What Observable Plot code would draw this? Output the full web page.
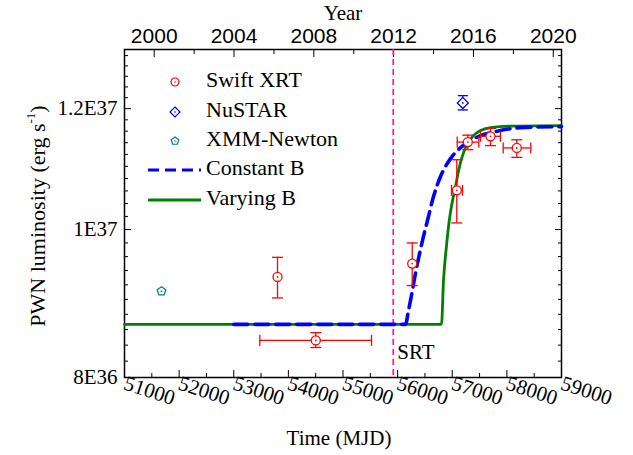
<!DOCTYPE html>
<html>
<head>
<meta charset="utf-8">
<script src="https://cdn.jsdelivr.net/npm/d3@7"></script>
<script src="https://cdn.jsdelivr.net/npm/@observablehq/plot@0.6"></script>
<style>
  html, body { margin: 0; padding: 0; background: #fff; }
</style>
</head>
<body>
<div id="chart"></div>
<script>
// ---- data ----
const swiftMjd    = [53801, 54502, 56267, 57083, 57285, 57700, 58182];
const swiftMjdLo  = [null, 53477, null, 56986, 57091, 57517, 57933];
const swiftMjdHi  = [null, 55522, null, 57188, 57486, 57883, 58438];
const swiftLum    = [9.31e36, 8.46e36, 9.50e36, 1.061e37, 1.141e37, 1.151e37, 1.131e37];
const swiftLumLo  = [9.02e36, 8.37e36, 9.19e36, 1.010e37, 1.128e37, 1.135e37, 1.115e37];
const swiftLumHi  = [9.59e36, 8.56e36, 9.80e36, 1.111e37, 1.153e37, 1.165e37, 1.145e37];

const nustarMjd = [57193];
const nustarLum = [1.2104e37];
const nustarLumLo = [1.1977e37];
const nustarLumHi = [1.2238e37];

const xmmMjd = [51677];
const xmmLum = [9.112e36];
const xmmLumLo = [9.085e36];
const xmmLumHi = [9.14e36];

const constMjd = [53000, 56144, 56199, 56254, 56309, 56382, 56455, 56547, 56657, 56785, 56968, 57151, 57334, 57517, 57792, 58250, 59000];
const constLum = [8.668e36, 8.668e36, 8.852e36, 9.054e36, 9.289e36, 9.572e36, 9.835e36, 1.0137e37, 1.0510e37, 1.0832e37, 1.1129e37, 1.1315e37, 1.1435e37, 1.1522e37, 1.1592e37, 1.1662e37, 1.1680e37];

const varMjd = [51000, 56803, 56840, 56895, 56950, 57005, 57060, 57115, 57188, 57279, 57371, 57517, 57700, 58067, 59000];
const varLum = [8.668e36, 8.668e36, 9.261e36, 9.762e36, 1.0167e37, 1.0447e37, 1.0669e37, 1.0929e37, 1.1180e37, 1.1384e37, 1.1505e37, 1.1610e37, 1.1662e37, 1.1689e37, 1.1698e37];

const srtMjd = [55920];

// ticks
const mjdMajor = [51000, 52000, 53000, 54000, 55000, 56000, 57000, 58000, 59000];
const mjdMinor = [51500, 52500, 53500, 54500, 55500, 56500, 57500, 58500];
const yearMajor = [2000, 2004, 2008, 2012, 2016, 2020];
const yearMinor = [2002, 2006, 2010, 2014, 2018];
const lumMajor = [8e36, 1e37, 1.2e37];
const lumMajorLabels = ["8E36", "1E37", "1.2E37"];
const lumMinor = d3.range(82, 132, 2).map(v => v * 1e35).filter(v => !lumMajor.some(m => Math.abs(m - v) < 1e33));

// ---- helpers ----
const toMjd = y => (Date.UTC(y, 0, 1) - Date.UTC(1858, 10, 17)) / 86400000;
const yearMajorMjd = yearMajor.map(toMjd);
const yearMinorMjd = yearMinor.map(toMjd);
const yearLabel = new Map(yearMajor.map(y => [toMjd(y), String(y)]));
const lumLabel = new Map(lumMajor.map((v, i) => [v, lumMajorLabels[i]]));

const swift = swiftMjd.map((m, i) => ({m, lo: swiftMjdLo[i], hi: swiftMjdHi[i], v: swiftLum[i], vlo: swiftLumLo[i], vhi: swiftLumHi[i]}));
const swiftX = swift.filter(d => d.lo != null);
const nustar = nustarMjd.map((m, i) => ({m, v: nustarLum[i], vlo: nustarLumLo[i], vhi: nustarLumHi[i]}));
const xmm = xmmMjd.map((m, i) => ({m, v: xmmLum[i], vlo: xmmLumLo[i], vhi: xmmLumHi[i]}));
const constB = constMjd.map((m, i) => ({m, v: constLum[i]}));
const varB = varMjd.map((m, i) => ({m, v: varLum[i]}));

const hcap = {draw(ctx, size) { const w = Math.sqrt(size / Math.PI); ctx.moveTo(-w, 0); ctx.lineTo(w, 0); }};
const vcap = {draw(ctx, size) { const w = Math.sqrt(size / Math.PI); ctx.moveTo(0, -w); ctx.lineTo(0, w); }};
const pentagon = {draw(ctx, size) {
  const r = Math.sqrt(size / Math.PI);
  for (let i = 0; i < 5; i++) {
    const a = -Math.PI / 2 + i * 2 * Math.PI / 5;
    const x = r * Math.cos(a), y = r * Math.sin(a);
    if (i) ctx.lineTo(x, y); else ctx.moveTo(x, y);
  }
  ctx.closePath();
}};

const RED = "#ff0000", BLUE = "#0000ff", TEAL = "#008080", GREEN = "#008000", PINK = "#ff1a8c";
const SERIF = "Liberation Serif";
const SANS = "Liberation Sans";

const errMarks = (data, color, capR) => [
  Plot.ruleX(data, {x: "m", y1: "vlo", y2: "vhi", stroke: color, strokeWidth: 1.3}),
  Plot.dot(data, {x: "m", y: "vlo", symbol: hcap, r: capR, stroke: color, strokeWidth: 1.3}),
  Plot.dot(data, {x: "m", y: "vhi", symbol: hcap, r: capR, stroke: color, strokeWidth: 1.3})
];

const chart = Plot.plot({
  width: 633,
  height: 455,
  marginLeft: 124,
  marginRight: 72,
  marginTop: 49,
  marginBottom: 78,
  x: {domain: [51000, 59000]},
  y: {type: "log", domain: [8e36, 1.312e37]},
  style: {fontFamily: SERIF, fontSize: "21px", color: "black", background: "white"},
  marks: [
    // axes (inward ticks)
    Plot.axisX(mjdMajor, {anchor: "bottom", tickSize: -7, tickPadding: 12, tickRotate: 18, tickFormat: d => String(d), fontSize: 21, label: null}),
    Plot.axisX(mjdMinor, {anchor: "bottom", tickSize: -4, fill: "none", label: null}),
    Plot.axisX(yearMajorMjd, {anchor: "top", tickSize: -7, tickPadding: 14, tickFormat: d => yearLabel.get(d), fontSize: 21, label: null, className: "sansaxis"}),
    Plot.axisX(yearMinorMjd, {anchor: "top", tickSize: -4, fill: "none", label: null}),
    Plot.axisY(lumMajor, {anchor: "left", tickSize: -7, tickPadding: 14, tickFormat: d => lumLabel.get(d), fontSize: 21, label: null}),
    Plot.axisY(lumMinor, {anchor: "left", tickSize: -4, fill: "none", label: null}),
    Plot.axisY(lumMajor, {anchor: "right", tickSize: -7, fill: "none", label: null}),
    Plot.axisY(lumMinor, {anchor: "right", tickSize: -4, fill: "none", label: null}),
    Plot.frame({stroke: "black", strokeWidth: 1.5}),
    // SRT line
    Plot.ruleX(srtMjd, {x: d => d, stroke: PINK, strokeWidth: 1.7, strokeDasharray: "6,4"}),
    Plot.text(srtMjd, {x: d => d, frameAnchor: "bottom", lineAnchor: "middle", dy: -25, dx: 4, text: () => "SRT", textAnchor: "start", fontSize: 21}),
    // model curves
    Plot.line(varB, {x: "m", y: "v", stroke: GREEN, strokeWidth: 2.8, curve: "monotone-x"}),
    Plot.line(constB, {x: "m", y: "v", stroke: BLUE, strokeWidth: 3.6, strokeDasharray: "14,7", curve: "monotone-x"}),
    // Swift error bars
    ...errMarks(swift, RED, 5.5),
    Plot.ruleY(swiftX, {y: "v", x1: "lo", x2: "hi", stroke: RED, strokeWidth: 1.3}),
    Plot.dot(swiftX, {x: "lo", y: "v", symbol: vcap, r: 5.5, stroke: RED, strokeWidth: 1.3}),
    Plot.dot(swiftX, {x: "hi", y: "v", symbol: vcap, r: 5.5, stroke: RED, strokeWidth: 1.3}),
    // NuSTAR & XMM error bars
    ...errMarks(nustar, BLUE, 5),
    ...errMarks(xmm, TEAL, 3),
    // markers
    Plot.dot(swift, {x: "m", y: "v", r: 4.5, symbol: "circle", stroke: RED, fill: "white", strokeWidth: 1.3}),
    Plot.dot(swift, {x: "m", y: "v", r: 0.9, fill: RED}),
    Plot.dot(nustar, {x: "m", y: "v", r: 5, symbol: "diamond2", stroke: BLUE, fill: "white", strokeWidth: 1.3}),
    Plot.dot(nustar, {x: "m", y: "v", r: 0.9, fill: BLUE}),
    Plot.dot(xmm, {x: "m", y: "v", r: 4.5, symbol: pentagon, stroke: TEAL, fill: "white", strokeWidth: 1.3}),
    Plot.dot(xmm, {x: "m", y: "v", r: 0.9, fill: TEAL}),
    // axis titles
    Plot.text(["Year"], {frameAnchor: "top", lineAnchor: "middle", dy: -36, fontSize: 21}),
    Plot.text(["Time (MJD)"], {frameAnchor: "bottom", lineAnchor: "middle", dy: 61, dx: -4, fontSize: 21})
  ]
});

document.getElementById("chart").appendChild(chart);

const svg = d3.select(chart);

// y-axis title with superscript
const yt = svg.append("text")
  .attr("transform", "translate(40,216) rotate(-90)")
  .attr("text-anchor", "middle")
  .attr("dominant-baseline", "middle")
  .attr("font-size", 22)
  .attr("fill", "black");
yt.append("tspan").text("PWN luminosity (erg s");
yt.append("tspan").attr("dy", -8).attr("font-size", 13).text("-1");
yt.append("tspan").attr("dy", 8).text(")");

// legend
const legendItems = [
  {label: "Swift XRT", kind: "circle", color: RED, y: 82},
  {label: "NuSTAR", kind: "diamond", color: BLUE, y: 112},
  {label: "XMM-Newton", kind: "pentagon", color: TEAL, y: 141},
  {label: "Constant B", kind: "dash", color: BLUE, y: 170},
  {label: "Varying B", kind: "solid", color: GREEN, y: 200}
];
const lg = svg.append("g").attr("class", "legend");
for (const it of legendItems) {
  const g = lg.append("g").attr("transform", `translate(0,${it.y})`);
  if (it.kind === "dash") {
    g.append("line").attr("x1", 148).attr("x2", 201).attr("stroke", it.color).attr("stroke-width", 3.2).attr("stroke-dasharray", "11,6");
  } else if (it.kind === "solid") {
    g.append("line").attr("x1", 148).attr("x2", 201).attr("stroke", it.color).attr("stroke-width", 2.8);
  } else {
    let path;
    if (it.kind === "circle") path = d3.symbol(d3.symbolCircle, Math.PI * 4 * 4)();
    else if (it.kind === "diamond") path = d3.symbol(d3.symbolDiamond2, Math.PI * 4.5 * 4.5)();
    else path = d3.symbol(pentagon, Math.PI * 4 * 4)();
    g.append("path").attr("d", path).attr("transform", "translate(175,0)").attr("fill", "white").attr("stroke", it.color).attr("stroke-width", 1.2);
    g.append("circle").attr("cx", 175).attr("cy", 0).attr("r", 0.8).attr("fill", it.color);
  }
  g.append("text").attr("x", 206).attr("y", 0)
    .attr("text-anchor", "start")
    .attr("dominant-baseline", "middle")
    .attr("font-size", 22).attr("fill", "black").text(it.label);
}

// fonts: serif everywhere except the top (year) tick labels, which are sans
svg.selectAll("text").style("font-family", "'Liberation Serif', serif");
svg.selectAll(".sansaxis text, g.sansaxis text").style("font-family", "'Liberation Sans', sans-serif");
svg.selectAll("text").filter(function() { return yearMajor.map(String).includes(this.textContent); })
  .style("font-family", "'Liberation Sans', sans-serif");
</script>
</body>
</html>
